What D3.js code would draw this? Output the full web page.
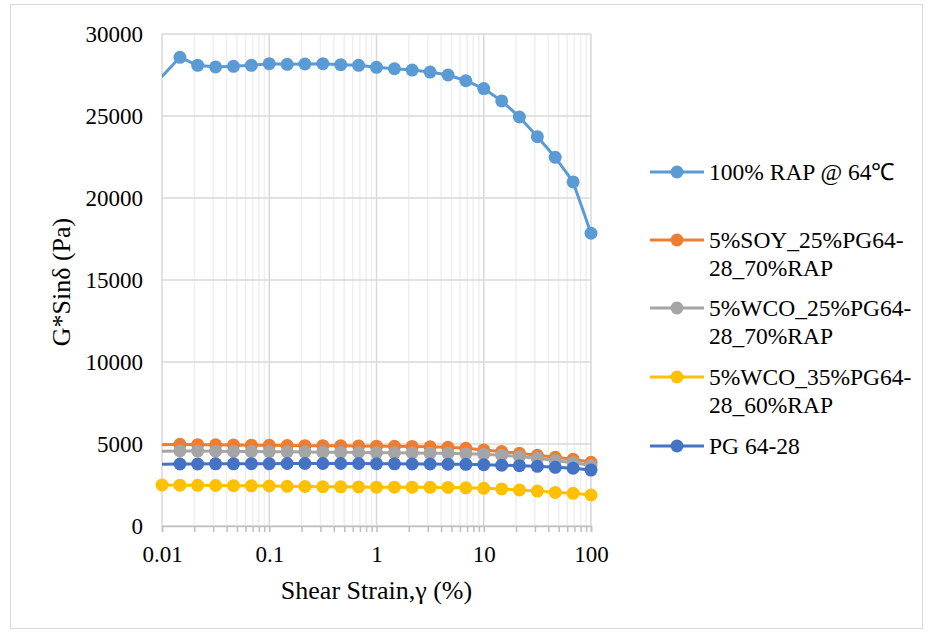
<!DOCTYPE html>
<meta charset="utf-8">
<style>
body { margin: 0; background: #fff; }
svg text { font-family: "Liberation Serif", "Times New Roman", serif; fill: #000; }
</style>
<svg width="930" height="634"></svg>
<script src="https://d3js.org/d3.v7.min.js"></script>
<script>

// shear strain (%) -- first point of most series sits just left of 0.01
var strainA = [0.0099, 0.0147, 0.0215, 0.0316, 0.0464, 0.0681, 0.1, 0.147, 0.215, 0.316, 0.464, 0.681,
               1, 1.47, 2.15, 3.16, 4.64, 6.81, 10, 14.7, 21.5, 31.6, 46.4, 68.1, 100];
var strainB = [0.01, 0.0147, 0.0215, 0.0316, 0.0464, 0.0681, 0.1, 0.147, 0.215, 0.316, 0.464, 0.681,
               1, 1.47, 2.15, 3.16, 4.64, 6.81, 10, 14.7, 21.5, 31.6, 46.4, 68.1, 100];

var rap100 = [27380, 28580, 28090, 27990, 28030, 28090, 28190, 28150, 28170, 28190, 28130, 28090,
              27970, 27880, 27800, 27680, 27500, 27150, 26670, 25920, 24940, 23740, 22480, 20980, 17850];
var soy25 = [4950, 4980, 4960, 4950, 4940, 4930, 4920, 4910, 4900, 4900, 4890, 4880,
             4870, 4860, 4850, 4830, 4800, 4740, 4640, 4540, 4430, 4310, 4190, 4070, 3880];
var wco25 = [4560, 4580, 4570, 4560, 4550, 4540, 4530, 4520, 4510, 4500, 4490, 4480,
             4470, 4460, 4450, 4440, 4430, 4410, 4380, 4320, 4230, 4130, 3990, 3860, 3700];
var wco35 = [2500, 2490, 2480, 2470, 2460, 2450, 2440, 2420, 2410, 2400, 2390, 2380,
             2370, 2370, 2370, 2360, 2350, 2330, 2300, 2260, 2200, 2130, 2050, 1990, 1890];
var pg6428 = [3770, 3780, 3780, 3790, 3790, 3800, 3800, 3810, 3810, 3810, 3810, 3810,
              3800, 3790, 3780, 3780, 3770, 3760, 3740, 3710, 3680, 3640, 3580, 3520, 3410];

var seriesNames = ["100% RAP @ 64\u2103", "5%SOY_25%PG64-\n28_70%RAP", "5%WCO_25%PG64-\n28_70%RAP",
                   "5%WCO_35%PG64-\n28_60%RAP", "PG 64-28"];
var seriesColors = ["#5B9BD5", "#ED7D31", "#A5A5A5", "#FFC000", "#4472C4"];
var seriesValues = [rap100, soy25, wco25, wco35, pg6428];
var seriesStrain = [strainA, strainA, strainA, strainB, strainA];

var xTicks = [0.01, 0.1, 1, 10, 100];
var yTicks = [0, 5000, 10000, 15000, 20000, 25000, 30000];

var svg = d3.select("svg");

var pLeft = 162, pRight = 591, pTop = 34, pBottom = 526;

var x = d3.scaleLog().domain([0.01, 100]).range([pLeft, pRight]);
var y = d3.scaleLinear().domain([0, 30000]).range([pBottom, pTop]);

// outer frame
svg.append("rect")
    .attr("x", 10.5).attr("y", 4.5)
    .attr("width", 912).attr("height", 624)
    .attr("fill", "none").attr("stroke", "#d9d9d9");

// minor vertical grid
var minor = [];
[0.01, 0.1, 1, 10].forEach(function(d) {
  for (var k = 2; k <= 9; k++) minor.push(d * k);
});

svg.append("g").selectAll("line")
    .data(minor)
  .enter().append("line")
    .attr("x1", function(d) { return x(d); })
    .attr("x2", function(d) { return x(d); })
    .attr("y1", pTop).attr("y2", pBottom)
    .attr("stroke", "#efefef").attr("stroke-width", 1.5);

svg.append("g").selectAll("line")
    .data(yTicks)
  .enter().append("line")
    .attr("x1", pLeft).attr("x2", pRight)
    .attr("y1", function(d) { return y(d); })
    .attr("y2", function(d) { return y(d); })
    .attr("stroke", "#d9d9d9").attr("stroke-width", 1.5);

svg.append("g").selectAll("line")
    .data(xTicks)
  .enter().append("line")
    .attr("x1", function(d) { return x(d); })
    .attr("x2", function(d) { return x(d); })
    .attr("y1", pTop).attr("y2", pBottom)
    .attr("stroke", "#d9d9d9").attr("stroke-width", 1.5);

// bottom axis with small ticks
var xAxis = d3.axisBottom(x)
    .tickValues(xTicks.concat(minor))
    .tickSize(6)
    .tickFormat(function(d) { return xTicks.indexOf(d) >= 0 ? String(d) : ""; });

var gx = svg.append("g")
    .attr("transform", "translate(0," + pBottom + ")")
    .call(xAxis);
gx.select(".domain").attr("stroke", "#bfbfbf").attr("stroke-width", 1.5);
gx.selectAll(".tick line").attr("stroke", "#bfbfbf").attr("stroke-width", 1.5);
gx.selectAll(".tick text")
    .attr("y", 20)
    .style("font-family", "Liberation Serif")
    .style("font-size", "23px")
    .attr("fill", "#000");

var yAxis = d3.axisLeft(y).tickValues(yTicks).tickSize(0).tickPadding(19)
    .tickFormat(d3.format("d"));
var gy = svg.append("g")
    .attr("transform", "translate(" + pLeft + ",0)")
    .call(yAxis);
gy.select(".domain").remove();
gy.selectAll(".tick text")
    .style("font-family", "Liberation Serif")
    .style("font-size", "23px")
    .attr("fill", "#000");

// axis titles
svg.append("text")
    .attr("x", (pLeft + pRight) / 2).attr("y", 599)
    .attr("text-anchor", "middle")
    .style("font-size", "26px")
    .text("Shear Strain,\u03b3 (%)");

svg.append("text")
    .attr("transform", "translate(70," + ((pTop + pBottom) / 2 + 2) + ") rotate(-90)")
    .attr("text-anchor", "middle")
    .style("font-size", "26px")
    .text("G*Sin\u03b4 (Pa)");

// series
svg.append("clipPath").attr("id", "plot")
  .append("rect")
    .attr("x", pLeft).attr("y", pTop - 10)
    .attr("width", pRight - pLeft).attr("height", pBottom - pTop + 10);

var line = d3.line()
    .x(function(d) { return x(d[0]); })
    .y(function(d) { return y(d[1]); });

seriesValues.forEach(function(vals, i) {
  var pts = vals.map(function(v, j) { return [seriesStrain[i][j], v]; });
  var g = svg.append("g");
  g.append("path")
      .datum(pts)
      .attr("clip-path", "url(#plot)")
      .attr("d", line)
      .attr("fill", "none")
      .attr("stroke", seriesColors[i])
      .attr("stroke-width", 3)
      .attr("stroke-linejoin", "round");
  g.selectAll("circle")
      .data(pts.filter(function(p) { return p[0] >= 0.01; }))
    .enter().append("circle")
      .attr("cx", function(d) { return x(d[0]); })
      .attr("cy", function(d) { return y(d[1]); })
      .attr("r", 6.5)
      .attr("fill", seriesColors[i]);
});

// legend
var legendY = [172, 240, 308, 377, 446];
var legend = svg.append("g");
seriesNames.forEach(function(name, i) {
  var ly = legendY[i];
  legend.append("line")
      .attr("x1", 650).attr("x2", 704)
      .attr("y1", ly).attr("y2", ly)
      .attr("stroke", seriesColors[i]).attr("stroke-width", 3);
  legend.append("circle")
      .attr("cx", 677).attr("cy", ly).attr("r", 6.5)
      .attr("fill", seriesColors[i]);
  var t = legend.append("text")
      .attr("x", 709).attr("y", ly + 8)
      .style("font-size", "23.5px");
  name.split("\n").forEach(function(part, k) {
    t.append("tspan")
        .attr("x", 709)
        .attr("dy", k === 0 ? 0 : 27.5)
        .text(part);
  });
});

</script>
